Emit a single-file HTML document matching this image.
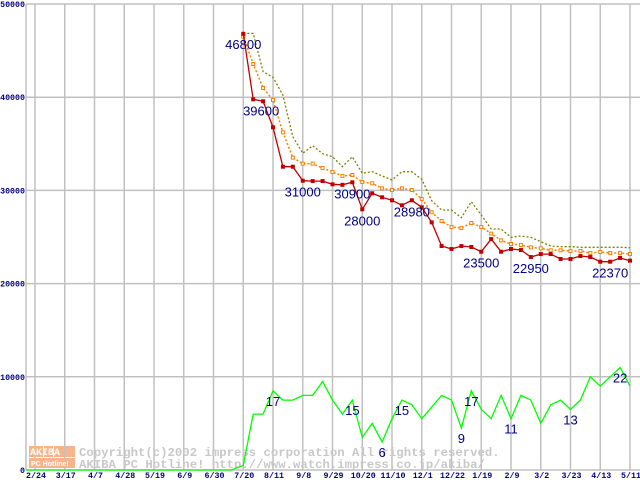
<!DOCTYPE html>
<html><head><meta charset="utf-8"><style>
html,body{margin:0;padding:0;background:#fff;}
svg{display:block;}
.tk{font-family:"Liberation Mono",monospace;font-size:8.3px;font-weight:bold;fill:#000080;}
.lb{font-family:"Liberation Sans",sans-serif;font-size:13px;fill:#000080;}
.wm{font-family:"Liberation Mono",monospace;font-size:12.3px;font-weight:bold;fill:#c8c8c8;}
</style></head><body>
<svg id="chart" width="640" height="480" viewBox="0 0 640 480" xmlns="http://www.w3.org/2000/svg">
<g id="grid"></g>
<g id="wmk">
<rect x="29" y="446" width="14" height="11" fill="#f7b48a"/><rect x="44" y="446" width="9" height="11" fill="#f7b48a"/><rect x="54" y="446" width="10" height="11" fill="#f7b48a"/><rect x="65" y="446" width="10" height="11" fill="#f7b48a"/>
<rect x="29" y="458" width="46" height="10" fill="#f7b48a"/>
<text x="30" y="455" font-family="Liberation Mono,monospace" font-size="10" font-weight="bold" fill="#fff">AKIBA</text>
<text x="31" y="466" font-family="Liberation Sans,sans-serif" font-size="7" font-weight="bold" fill="#fff">PC Hotline!</text>
<text class="wm" x="79" y="456">Copyright(c)2002 impress corporation All rights reserved.</text>
<text class="wm" x="79" y="468">AKIBA PC Hotline!  http://www.watch.impress.co.jp/akiba/</text>
</g>
<g id="series"></g>
<g id="axes"></g>
</svg>
<script>
const xLabels=["2/24","3/17","4/7","4/28","5/19","6/9","6/30","7/20","8/11","9/8","9/29","10/20","11/10","12/1","12/22","1/19","2/9","3/2","3/23","4/13","5/11"];
const yTicks=[0,10000,20000,30000,40000,50000];
const priceMin=[46800,39770,39560,36770,32540,32540,31040,31000,31000,30650,30600,30870,27970,29690,29260,28940,28400,28940,28190,26570,24030,23710,24030,23930,23420,24780,23420,23710,23600,22850,23170,23170,22640,22640,22960,22850,22350,22350,22750,22460];
const priceAvg=[46500,43560,40990,39700,36230,33510,32870,32870,32400,31970,31550,31650,30900,30760,30220,30040,30220,30040,29080,27650,26720,26070,25960,26500,26070,25360,24640,24250,24140,23890,23780,23570,23570,23500,23500,23280,23390,23280,23280,23180];
const priceMax=[46850,46850,42740,42130,40240,35760,33980,34800,33940,33620,32540,33620,31830,32010,31550,31120,32010,32010,31190,28900,27900,27900,27070,28790,27360,25860,25860,24970,25110,24970,24500,24030,23960,23960,23900,23900,23900,23900,23900,23850];
const shopCount=[1,12,12,17,15,15,16,16,19,15,12,15,7,10,6,11,15,14,11,13.5,16,15,9,17,13,11,16,11,16,15,10,14,15,13,15,20,18,20,22,18];
const priceLabels=[[0,"46800"],[1,"39600"],[6,"31000"],[11,"30900"],[12,"28000"],[17,"28980"],[24,"23500"],[29,"22950"],[37,"22370"]];
const countLabels=[[3,"17"],[11,"15"],[14,"6"],[16,"15"],[22,"9"],[23,"17"],[27,"11"],[33,"13"],[38,"22"]];

const NS="http://www.w3.org/2000/svg";
const X0=26,X1=640,Ytop=4,Ybot=470;
const yS=v=>Ybot-(v/50000)*(Ybot-Ytop);
const gx=i=>35+i*29.75;
const xS=i=>gx(7)+i*29.75/3;
const cS=c=>yS(c*500);
function mk(tag,attrs,parent){const e=document.createElementNS(NS,tag);for(const k in attrs)e.setAttribute(k,attrs[k]);parent.appendChild(e);return e;}
const grid=document.getElementById('grid'),axes=document.getElementById('axes'),ser=document.getElementById('series');
yTicks.forEach(v=>{
  const l=mk('line',{x1:X0,x2:X1,y1:yS(v),y2:yS(v),stroke:'#c0c0c0','stroke-width':1.5},grid);
  
  
  const t=mk('text',{x:25,y:yS(v)+3,'text-anchor':'end',class:'tk'},axes);
  t.textContent=String(v);
  
  
});
xLabels.forEach((s,i)=>{
  const l=mk('line',{x1:gx(i),x2:gx(i),y1:Ytop,y2:Ybot,stroke:'#c0c0c0','stroke-width':1.5},grid);
  
  
  const t=mk('text',{x:gx(i)+1,y:478,'text-anchor':'middle',class:'tk'},axes);
  t.textContent=s;
  
  
});
const ax=mk('line',{x1:X0,x2:X0,y1:Ytop,y2:Ybot,stroke:'#c0c0c0','stroke-width':1.5},grid);


function pts(arr,f){return arr.map((v,i)=>xS(i).toFixed(1)+','+f(v).toFixed(1)).join(' ');}
const cl=mk('polyline',{points:X0+','+Ybot+' '+(xS(0)-12)+','+Ybot+' '+pts(shopCount,cS),fill:'none',stroke:'#00ff00','stroke-width':1.3},ser);


const mx=mk('polyline',{points:pts(priceMax,yS),fill:'none',stroke:'#808000','stroke-width':1.3,'stroke-dasharray':'2,2'},ser);


const av=mk('polyline',{points:pts(priceAvg,yS),fill:'none',stroke:'#ff8000','stroke-width':1.5,'stroke-dasharray':'2,2'},ser);


priceAvg.forEach((v,i)=>{
  const r=mk('rect',{x:xS(i)-1.5,y:yS(v)-1.5,width:3,height:3,fill:'#fff',stroke:'#ff8000','stroke-width':1},ser);
  
  
});
const mn=mk('polyline',{points:pts(priceMin,yS),fill:'none',stroke:'#c00000','stroke-width':1.3},ser);


priceMin.forEach((v,i)=>{
  const r=mk('rect',{x:xS(i)-2,y:yS(v)-2,width:4,height:4,fill:'#c00000'},ser);
  
  
});
priceLabels.forEach(([i,s])=>{
  const t=mk('text',{x:xS(i)+(i===1?8:0),y:yS(priceMin[i])+(i===0?15:16),'text-anchor':'middle',class:'lb'},ser);
  t.textContent=s;
  
  
});
countLabels.forEach(([i,s])=>{
  const t=mk('text',{x:xS(i),y:cS(shopCount[i])+15,'text-anchor':'middle',class:'lb'},ser);
  t.textContent=s;
  
  
});
</script>
</body></html>
